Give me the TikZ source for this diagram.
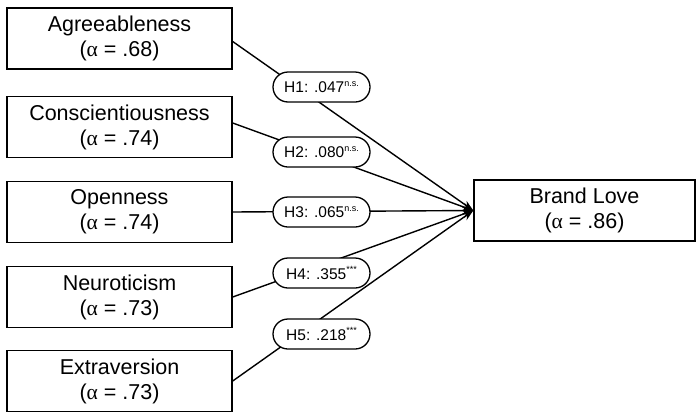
\documentclass[tikz,border=0pt]{standalone}
\usepackage{fontspec}
\setmainfont{Liberation Sans}
\newfontfamily\grk{Liberation Serif}
\usetikzlibrary{arrows.meta}
\newcommand\sps[1]{\raisebox{0.42em}{\fontsize{9}{9}\selectfont #1}}
\newcommand\al{{\grk α}}
\begin{document}
\begin{tikzpicture}[x=1pt,y=-1pt,
  var/.style={draw, line width=1.4pt, minimum width=225pt, minimum height=61pt,
    align=center, inner sep=0pt, font=\fontsize{21.5}{25}\selectfont},
  hyp/.style={draw, fill=white, line width=1.3pt, rounded corners=15pt,
    minimum width=97pt, minimum height=30pt, inner sep=0pt,
    font=\fontsize{15.5}{17}\selectfont},
  conn/.style={line width=1.4pt, -{Stealth[length=11pt,width=8pt]}}]
\useasboundingbox (0,0) rectangle (696,413);
\node[var] (b1) at (119.5,38.5) {Agreeableness\\(\al{} = .68)};
\node[var] (b2) at (119.5,127) {Conscientiousness\\(\al{} = .74)};
\node[var] (b3) at (119.5,212) {Openness\\(\al{} = .74)};
\node[var] (b4) at (119.5,297) {Neuroticism\\(\al{} = .73)};
\node[var] (b5) at (119.5,381) {Extraversion\\(\al{} = .73)};
\node[var, minimum width=221pt] (bl) at (584.5,210.5) {Brand Love\\(\al{} = .86)};
\draw[conn] ([yshift=-3pt]b1.east) -- (bl.west);
\draw[conn] ([yshift=4pt]b2.east) -- (bl.west);
\draw[conn] (b3.east) -- (bl.west);
\draw[conn] (b4.east) -- (bl.west);
\draw[conn] (b5.east) -- (bl.west);
\node[hyp] (h1) at (321.5,87) {H1: .047\sps{n.s.}};
\node[hyp] (h2) at (321.5,152) {H2: .080\sps{n.s.}};
\node[hyp] (h3) at (321.5,212) {H3: .065\sps{n.s.}};
\node[hyp] (h4) at (321.5,273) {H4: .355\sps{***}};
\node[hyp] (h5) at (321.5,334) {H5: .218\sps{***}};
\end{tikzpicture}
\end{document}
